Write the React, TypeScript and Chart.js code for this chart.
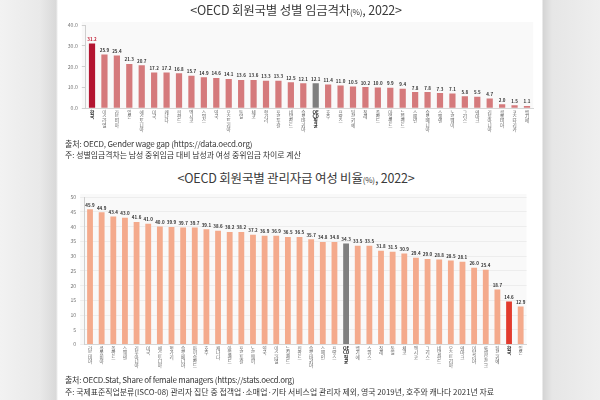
import React, { useEffect, useRef } from "react";
import { Chart, registerables } from "chart.js";

Chart.register(...registerables);

// ---------- data ----------
const wageCountries = [
  "한국", "이스라엘", "라트비아", "일본", "에스토니아", "미국", "캐나다", "핀란드", "멕시코",
  "스위스", "영국", "오스트리아", "독일", "체코", "헝가리", "포르투갈", "네덜란드", "슬로바키아",
  "OECD평균", "호주", "프랑스", "튀르키예", "칠레", "폴란드", "아일랜드", "뉴질랜드", "스페인",
  "슬로베니아", "스웨덴", "노르웨이", "그리스", "덴마크", "리투아니아", "콜롬비아", "코스타리카", "벨기에",
];
const wageValues = [
  31.2, 25.9, 25.4, 21.3, 20.7, 17.2, 17.2, 16.8, 15.7, 14.9, 14.6, 14.1, 13.6, 13.6, 13.3, 13.3, 12.5, 12.1,
  12.1, 11.4, 11.0, 10.5, 10.2, 10.0, 9.9, 9.4, 7.8, 7.8, 7.3, 7.1, 5.8, 5.5, 4.7, 2.0, 1.5, 1.1,
];
const wageTicks = [0, 10, 20, 30, 40];

const mgrCountries = [
  "라트비아", "콜롬비아", "폴란드", "스웨덴", "리투아니아", "미국", "에스토니아", "헝가리", "슬로베니아",
  "아이슬란드", "호주", "캐나다", "아일랜드", "포르투갈", "노르웨이", "영국", "이스라엘", "뉴질랜드",
  "핀란드", "슬로바키아", "스페인", "프랑스", "OECD평균", "벨기에", "스위스", "칠레", "독일", "체코",
  "멕시코", "그리스", "네덜란드", "오스트리아", "덴마크", "이탈리아", "룩셈부르크", "튀르키예", "한국", "일본",
];
const mgrValues = [
  45.9, 44.9, 43.4, 43.0, 41.6, 41.0, 40.0, 39.9, 39.7, 39.7, 39.1, 38.6, 38.2, 38.2, 37.2, 36.9, 36.9, 36.5,
  36.5, 35.7, 34.8, 34.8, 34.3, 33.5, 33.5, 31.8, 31.5, 30.9, 29.4, 29.0, 28.8, 28.5, 28.1, 26.0, 25.4, 18.7,
  14.6, 12.9,
];
const mgrTicks = [0, 5, 10, 15, 20, 25, 30, 35, 40, 45, 50];

const FONT = '"Noto Sans CJK KR", "Noto Sans", sans-serif';

function stackLabel(name: string): string[] {
  if (name === "OECD평균") return ["OE", "CD", "평", "균"];
  return Array.from(name);
}

const areaBg = {
  id: "areaBg",
  beforeDraw(chart: any, _a: any, opts: any) {
    const { ctx, chartArea } = chart;
    if (!chartArea) return;
    ctx.save();
    ctx.fillStyle = opts.color || "#f8f8f8";
    ctx.fillRect(chartArea.left - 4, chartArea.top - 3, chartArea.right - chartArea.left + 4, chartArea.bottom - chartArea.top + 3);
    ctx.restore();
  },
};

const valueLabels = {
  id: "valueLabels",
  afterDatasetsDraw(chart: any, _a: any, opts: any) {
    const { ctx } = chart;
    const meta = chart.getDatasetMeta(0);
    const data = chart.data.datasets[0].data as number[];
    ctx.save();
    ctx.font = `bold ${opts.size || 4.5}px ${FONT}`;
    ctx.textAlign = "center";
    ctx.textBaseline = "bottom";
    meta.data.forEach((el: any, i: number) => {
      ctx.fillStyle = opts.colorFn ? opts.colorFn(i) : "#333";
      ctx.fillText(data[i].toFixed(1), el.x, el.y - 2);
    });
    ctx.restore();
  },
};

function makeChart(
  canvas: HTMLCanvasElement,
  labels: string[],
  values: number[],
  colors: string[],
  ticks: number[],
  yMax: number,
  tickFmt: (v: number) => string,
  pad: { top: number; right: number },
  yWidth: number,
  xHeight: number,
  grid: boolean,
  labelColorFn: (i: number) => string,
  boldIdx: number[],
) {
  return new Chart(canvas, {
    type: "bar",
    data: {
      labels: labels.map(stackLabel),
      datasets: [
        {
          data: values,
          backgroundColor: colors,
          barPercentage: 0.5,
          categoryPercentage: 1,
        },
      ],
    },
    options: {
      responsive: false,
      animation: false,
      layout: { padding: { top: pad.top, right: pad.right, left: 0, bottom: 0 } },
      plugins: {
        legend: { display: false },
        tooltip: { enabled: false },
        areaBg: { color: "#f9f9f9" },
        valueLabels: { size: 4.5, colorFn: labelColorFn },
      } as any,
      scales: {
        x: {
          grid: { display: false, drawTicks: false },
          border: { display: true, color: "#d6d6d6" },
          ticks: {
            autoSkip: false,
            maxRotation: 0,
            minRotation: 0,
            padding: 2,
            color: (c: any) => (boldIdx.includes(c.index) ? "#222" : "#666"),
            font: (c: any) => ({
              size: 4.6,
              family: FONT,
              lineHeight: 0.9,
              weight: boldIdx.includes(c.index) ? "bold" : "normal",
            }),
          },
          afterFit: (s: any) => {
            s.height = xHeight;
          },
        },
        y: {
          min: 0,
          max: yMax,
          afterBuildTicks: (s: any) => {
            s.ticks = ticks.map((v) => ({ value: v }));
          },
          ticks: {
            callback: (v: any) => tickFmt(Number(v)),
            color: "#777",
            font: { size: 5.2, family: FONT },
            padding: 4,
          },
          grid: {
            display: true,
            drawOnChartArea: grid,
            tickLength: 4,
            color: grid ? "#ededed" : "#d0d0d0",
          },
          border: { display: true, color: "#cfcfcf" },
          afterFit: (s: any) => {
            s.width = yWidth;
          },
        },
      },
    },
    plugins: [areaBg, valueLabels],
  });
}

export default function App() {
  const topRef = useRef<HTMLCanvasElement>(null);
  const botRef = useRef<HTMLCanvasElement>(null);

  useEffect(() => {
    const wageColors = wageCountries.map((c) =>
      c === "한국" ? "#b31430" : c === "OECD평균" ? "#7f7f7f" : "#d57a7c",
    );
    const mgrColors = mgrCountries.map((c) =>
      c === "한국" ? "#e23b2e" : c === "OECD평균" ? "#7f7f7f" : "#f4aa8c",
    );
    const wKorea = wageCountries.indexOf("한국");
    const wOecd = wageCountries.indexOf("OECD평균");
    const mKorea = mgrCountries.indexOf("한국");
    const mOecd = mgrCountries.indexOf("OECD평균");

    const c1 = makeChart(
      topRef.current!,
      wageCountries,
      wageValues,
      wageColors,
      wageTicks,
      40,
      (v) => v.toFixed(1),
      { top: 5.3, right: 8.8 },
      27.8,
      31.7,
      false,
      (i) => (i === wKorea ? "#c0182f" : "#333"),
      [wKorea, wOecd],
    );
    const c2 = makeChart(
      botRef.current!,
      mgrCountries,
      mgrValues,
      mgrColors,
      mgrTicks,
      50,
      (v) => String(v),
      { top: 6, right: 15.5 },
      26.2,
      30.5,
      true,
      () => "#333",
      [mKorea, mOecd],
    );
    return () => {
      c1.destroy();
      c2.destroy();
    };
  }, []);

  const text = (top: number, size: number, extra: any = {}) => ({
    position: "absolute" as const,
    top,
    transform: "translateY(-50%)",
    lineHeight: 1,
    whiteSpace: "nowrap" as const,
    fontFamily: FONT,
    fontSize: size,
    color: "#333",
    ...extra,
  });

  return (
    <div
      style={{
        position: "fixed",
        left: 0,
        top: 0,
        width: 600,
        height: 400,
        overflow: "hidden",
        background:
          "linear-gradient(to right, #f2f2f2 0px, #e9e9e9 40px, #d9d9d9 56px, #ffffff 58px, #ffffff 542px, #d4d4d4 543px, #e6e6e6 552px, #efefef 600px)",
      }}
    >
      <canvas ref={topRef} width={484} height={122} style={{ position: "absolute", left: 58, top: 18 }} />
      <canvas ref={botRef} width={484} height={185} style={{ position: "absolute", left: 58, top: 190 }} />

      <div style={text(10, 12.5, { left: 0, width: 592, textAlign: "center", color: "#3a3a3a", letterSpacing: -0.2 })}>
        &lt;OECD 회원국별 성별 임금격차<span style={{ fontSize: 8 }}>(%)</span>, 2022&gt;
      </div>
      <div style={text(144, 8, { left: 65, letterSpacing: -0.15 })}>출처: OECD, Gender wage gap (https://data.oecd.org)</div>
      <div style={text(155, 7.9, { left: 65 })}>주: 성별임금격차는 남성 중위임금 대비 남성과 여성 중위임금 차이로 계산</div>

      <div style={text(177.5, 12.5, { left: 0, width: 592, textAlign: "center", color: "#3a3a3a", letterSpacing: -0.2 })}>
        &lt;OECD 회원국별 관리자급 여성 비율<span style={{ fontSize: 8 }}>(%)</span>, 2022&gt;
      </div>
      <div style={text(379.5, 8, { left: 65, letterSpacing: -0.25 })}>출처: OECD.Stat, Share of female managers (https://stats.oecd.org)</div>
      <div style={text(391.5, 7.9, { left: 65 })}>
        주: 국제표준직업분류(ISCO-08) 관리자 집단 중 접객업·소매업·기타 서비스업 관리자 제외, 영국 2019년, 호주와 캐나다 2021년 자료
      </div>
    </div>
  );
}
